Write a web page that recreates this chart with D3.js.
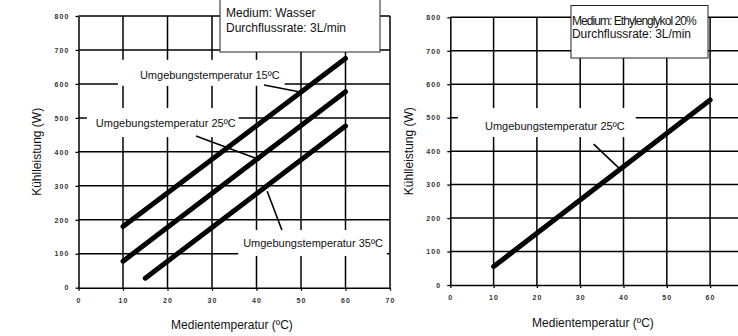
<!DOCTYPE html>
<html>
<head>
<meta charset="utf-8">
<script src="https://cdn.jsdelivr.net/npm/d3@7"></script>
<style>
  body { margin: 0; background: #fff; }
  svg { display: block; font-family: "Liberation Sans", Arial, sans-serif; }
</style>
</head>
<body>
<div id="chart"></div>
<script>
// data
const tempTicks = [0, 10, 20, 30, 40, 50, 60, 70];
const powerTicks = [0, 100, 200, 300, 400, 500, 600, 700, 800];

// left chart: water
const waterLabels = ["Umgebungstemperatur  15ºC", "Umgebungstemperatur 25ºC", "Umgebungstemperatur 35ºC"];
const waterStartTemp = [10, 10, 15];
const waterStartPower = [180, 78, 28];
const waterEndTemp = [60, 60, 60];
const waterEndPower = [675, 577, 476];
const waterLegend = ["Medium: Wasser", "Durchflussrate: 3L/min"];

// right chart: ethylene glycol 20%
const glycolLabels = ["Umgebungstemperatur 25ºC"];
const glycolStartTemp = [10];
const glycolStartPower = [55];
const glycolEndTemp = [60];
const glycolEndPower = [553];
const glycolLegend = ["Medium: Ethylenglykol 20%", "Durchflussrate: 3L/min"];

const xTitle = "Medientemperatur (ºC)";
const yTitle = "Kühlleistung (W)";

const W = 738, H = 336;

document.addEventListener('DOMContentLoaded', function () {
    const svg = d3.select("#chart")
        .append("svg")
        .attr("width", W)
        .attr("height", H);

    // label placement (text start / baseline in data units, leader ends, white box padding)
    const waterNotes = [
        { tx: 13.8, ty: 615, l: [[41.7, 597], [49.8, 576]], pad: [22, 5, 19, 7] },
        { tx: 3.9, ty: 473, l: [[26.4, 447], [40.8, 376]], pad: [9, 3, 19, 10] },
        { tx: 37.0, ty: 120, l: [[42.4, 284], [45.7, 170]], pad: [5, 4, 17, 9] }
    ];
    const glycolNotes = [
        { tx: 8.0, ty: 463, l: [[33.1, 421], [38.9, 350]], pad: [27, 11, 22, 7] }
    ];

    drawPanel(svg, {
        x0: 78.5, x1: 390, y0: 287.7, y1: 16,
        labels: waterLabels, notes: waterNotes,
        start: waterStartTemp.map((t, i) => [t, waterStartPower[i]]),
        end: waterEndTemp.map((t, i) => [t, waterEndPower[i]]),
        legend: waterLegend,
        box: { x: 220, y: -6, w: 160, h: 58, tx: 226, ty: [17.3, 31.8], spacing: [0, 0] },
        yTitleX: 41, xTitleX: 232, xTitleY: 328.5
    });

    // the right chart runs past the window edge, its 70 column is cut off
    drawPanel(svg, {
        x0: 450.3, x1: 753.4, y0: 285, y1: 17.3,
        labels: glycolLabels, notes: glycolNotes,
        start: glycolStartTemp.map((t, i) => [t, glycolStartPower[i]]),
        end: glycolEndTemp.map((t, i) => [t, glycolEndPower[i]]),
        legend: glycolLegend,
        box: { x: 571, y: 5.5, w: 137, h: 52.5, tx: 572, ty: [24.5, 37.5], spacing: [-0.95, -0.05] },
        yTitleX: 413, xTitleX: 593, xTitleY: 327
    });
});

function drawPanel(svg, p) {
    const x = d3.scaleLinear().domain([0, 70]).range([p.x0, p.x1]);
    const y = d3.scaleLinear().domain([0, 800]).range([p.y0, p.y1]);
    const g = svg.append("g");

    // grid
    g.selectAll(".hgrid")
        .data(powerTicks.slice(1))
        .enter()
        .append("line")
        .attr("x1", x(0)).attr("x2", x(70))
        .attr("y1", d => y(d)).attr("y2", d => y(d))
        .attr("stroke", "#000").attr("stroke-width", 1.5);
    g.selectAll(".vgrid")
        .data(tempTicks.slice(1))
        .enter()
        .append("line")
        .attr("x1", d => x(d)).attr("x2", d => x(d))
        .attr("y1", y(0)).attr("y2", y(800))
        .attr("stroke", "#000").attr("stroke-width", 1.5);

    // axes (only the ticks that fit inside the window)
    const yAxis = g.append("g")
        .attr("transform", `translate(${x(0)},0)`)
        .call(d3.axisLeft(y).tickValues(powerTicks).tickSize(3).tickSizeOuter(0).tickPadding(6));
    const xAxis = g.append("g")
        .attr("transform", `translate(0,${y(0)})`)
        .call(d3.axisBottom(x).tickValues(tempTicks.filter(t => x(t) < W)).tickSize(3).tickSizeOuter(0).tickPadding(7));
    [xAxis, yAxis].forEach(a => {
        a.select(".domain").attr("stroke", "#000").attr("stroke-width", 1.5);
        a.selectAll(".tick line").attr("stroke", "#000").attr("stroke-width", 1.3);
        a.selectAll(".tick text")
            .attr("fill", "#333")
            .style("font-size", "7px")
            .style("font-weight", "bold")
            .style("letter-spacing", "1.1px")
            .style("font-family", "'Liberation Sans', Arial, sans-serif");
    });

    // legend box
    g.append("rect")
        .attr("x", p.box.x).attr("y", p.box.y)
        .attr("width", p.box.w).attr("height", p.box.h)
        .attr("fill", "#fff").attr("stroke", "#222").attr("stroke-width", 1);
    p.legend.forEach((t, i) => {
        g.append("text")
            .attr("x", p.box.tx).attr("y", p.box.ty[i])
            .style("font-size", "12px")
            .style("letter-spacing", p.box.spacing[i] + "px")
            .attr("fill", "#111")
            .text(t);
    });

    // labels, each with a white box behind it
    p.labels.forEach((t, i) => {
        const n = p.notes[i];
        const label = g.append("text")
            .attr("x", x(n.tx)).attr("y", y(n.ty))
            .style("font-size", "11px")
            .attr("fill", "#111")
            .text(t);
        const w = label.node().getComputedTextLength();
        g.insert("rect", () => label.node())
            .attr("x", x(n.tx) - n.pad[0])
            .attr("y", y(n.ty) - n.pad[2])
            .attr("width", w + n.pad[0] + n.pad[1])
            .attr("height", n.pad[2] + n.pad[3])
            .attr("fill", "#fff");
    });

    // data lines
    g.selectAll(".series")
        .data(p.start.map((s, i) => [s, p.end[i]]))
        .enter()
        .append("line")
        .attr("x1", d => x(d[0][0])).attr("y1", d => y(d[0][1]))
        .attr("x2", d => x(d[1][0])).attr("y2", d => y(d[1][1]))
        .attr("stroke", "#000")
        .attr("stroke-width", 5)
        .attr("stroke-linecap", "round");

    // leader lines
    g.selectAll(".leader")
        .data(p.notes)
        .enter()
        .append("line")
        .attr("x1", d => x(d.l[0][0])).attr("y1", d => y(d.l[0][1]))
        .attr("x2", d => x(d.l[1][0])).attr("y2", d => y(d.l[1][1]))
        .attr("stroke", "#000")
        .attr("stroke-width", 1.6);

    // axis titles
    g.append("text")
        .attr("x", p.xTitleX).attr("y", p.xTitleY)
        .attr("text-anchor", "middle")
        .style("font-size", "12px")
        .attr("fill", "#111")
        .text(xTitle);
    g.append("text")
        .attr("transform", `translate(${p.yTitleX},${(p.y0 + p.y1) / 2}) rotate(-90)`)
        .attr("text-anchor", "middle")
        .style("font-size", "12px")
        .attr("fill", "#111")
        .text(yTitle);
}
</script>
</body>
</html>
